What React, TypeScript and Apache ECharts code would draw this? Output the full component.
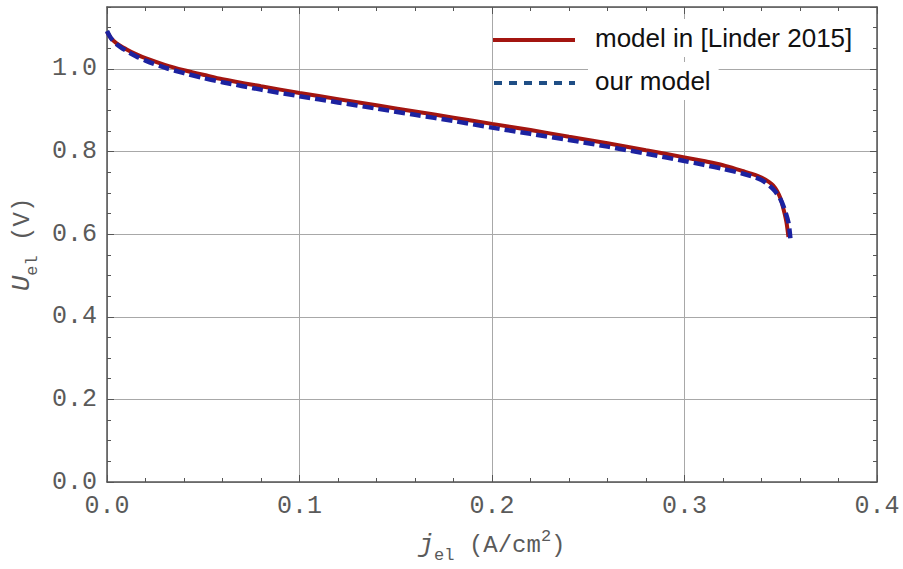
import React, { useEffect, useRef } from "react";
import * as echarts from "echarts";

// current density j_el (A/cm^2)
const linderJ = [0, 0.002, 0.005, 0.01, 0.015, 0.02, 0.03, 0.04, 0.05, 0.06, 0.08, 0.1, 0.12, 0.14, 0.16, 0.18, 0.2, 0.22, 0.24, 0.26, 0.28, 0.3, 0.31, 0.32, 0.33, 0.335, 0.34, 0.344, 0.346, 0.348, 0.35, 0.351, 0.352, 0.353, 0.354];
const linderU = [1.09, 1.075, 1.062, 1.048, 1.036, 1.026, 1.01, 0.997, 0.986, 0.975, 0.958, 0.942, 0.927, 0.912, 0.897, 0.882, 0.867, 0.852, 0.836, 0.82, 0.803, 0.786, 0.777, 0.767, 0.753, 0.746, 0.737, 0.726, 0.718, 0.705, 0.685, 0.668, 0.65, 0.628, 0.593];

const oursJ = [0, 0.002, 0.005, 0.01, 0.015, 0.02, 0.03, 0.04, 0.05, 0.06, 0.08, 0.1, 0.12, 0.14, 0.16, 0.18, 0.2, 0.22, 0.24, 0.26, 0.28, 0.3, 0.31, 0.32, 0.33, 0.335, 0.34, 0.344, 0.347, 0.35, 0.352, 0.354, 0.355];
const oursU = [1.092, 1.075, 1.06, 1.044, 1.031, 1.02, 1.003, 0.99, 0.978, 0.968, 0.95, 0.934, 0.919, 0.904, 0.889, 0.874, 0.858, 0.843, 0.828, 0.812, 0.795, 0.777, 0.768, 0.758, 0.747, 0.74, 0.731, 0.718, 0.704, 0.683, 0.66, 0.628, 0.59];

const seriesNames = ["model in [Linder 2015]", "our model"];

const X_MIN = 0, X_MAX = 0.4, X_MAJOR = 0.1, X_MINOR = 0.02;
const Y_MIN = 0, Y_MAX = 1.15, Y_MAJOR = 0.2, Y_MINOR = 0.05;

const FRAME = "#555555";
const GRID = "#a8a8a8";
const LABEL = "#5a5a5a";
const RED = "#a31510";
const BLUE = "#1c22a0";
const LEGEND_BLUE = "#1f4e85";
const MONO = "'Liberation Mono', 'DejaVu Sans Mono', monospace";
const SANS = "'Liberation Sans', Arial, sans-serif";

function zip(a: number[], b: number[]) {
  return a.map((v, i) => [v, b[i]]);
}

export default function App() {
  const ref = useRef<HTMLDivElement>(null);
  useEffect(() => {
    if (!ref.current) return;
    const chart = echarts.init(ref.current, undefined, { renderer: "svg" });

    const mkX = (pos: "bottom" | "top", major: boolean, main: boolean) => ({
      type: "value" as const,
      position: pos,
      min: X_MIN,
      max: X_MAX,
      interval: major ? X_MAJOR : X_MINOR,
      axisLine: { show: major, onZero: false, lineStyle: { color: FRAME, width: 1.5 } },
      axisTick: { show: true, inside: true, length: major ? 7 : 4, lineStyle: { color: FRAME, width: 1 } },
      axisLabel: main
        ? {
            show: true,
            margin: 12,
            fontFamily: MONO,
            fontSize: 25,
            color: LABEL,
            formatter: (v: number) => v.toFixed(1),
          }
        : { show: false },
      splitLine: main ? { show: true, lineStyle: { color: GRID, width: 1 } } : { show: false },
      name: main ? "{i|j}{sub|el} (A/cm{sup|2})" : "",
      nameLocation: "middle" as const,
      nameGap: 50,
      nameTextStyle: main
        ? {
            fontFamily: MONO,
            fontSize: 24,
            color: LABEL,
            rich: {
              i: { fontFamily: MONO, fontStyle: "italic", fontSize: 26, color: LABEL, verticalAlign: "bottom" },
              sub: { fontFamily: MONO, fontSize: 17, color: LABEL, verticalAlign: "bottom", padding: [0, 0, -6, 0] },
              sup: { fontFamily: MONO, fontSize: 17, color: LABEL, verticalAlign: "top", padding: [-4, 0, 0, 0] },
            },
          }
        : undefined,
    });

    const mkY = (pos: "left" | "right", major: boolean, main: boolean) => ({
      type: "value" as const,
      position: pos,
      min: Y_MIN,
      max: Y_MAX,
      interval: major ? Y_MAJOR : Y_MINOR,
      axisLine: { show: major, onZero: false, lineStyle: { color: FRAME, width: 1.5 } },
      axisTick: { show: true, inside: true, length: major ? 7 : 4, lineStyle: { color: FRAME, width: 1 } },
      axisLabel: main
        ? {
            show: true,
            margin: 10,
            fontFamily: MONO,
            fontSize: 25,
            color: LABEL,
            showMaxLabel: false,
            formatter: (v: number) => (Math.abs(v / Y_MAJOR - Math.round(v / Y_MAJOR)) < 1e-6 ? v.toFixed(1) : ""),
          }
        : { show: false },
      splitLine: main ? { show: true, lineStyle: { color: GRID, width: 1 } } : { show: false },
      name: main ? "{i|U}{sub|el} (V)" : "",
      nameLocation: "middle" as const,
      nameGap: 72,
      nameRotate: 90,
      nameTextStyle: main
        ? {
            fontFamily: MONO,
            fontSize: 24,
            color: LABEL,
            rich: {
              i: { fontFamily: MONO, fontStyle: "italic", fontSize: 26, color: LABEL, verticalAlign: "bottom" },
              sub: { fontFamily: MONO, fontSize: 17, color: LABEL, verticalAlign: "bottom", padding: [0, 0, -6, 0] },
            },
          }
        : undefined,
    });

    chart.setOption({
      animation: false,
      backgroundColor: "#ffffff",
      grid: { left: 107, right: 26, top: 7, bottom: 86, containLabel: false },
      xAxis: [mkX("bottom", true, true), mkX("bottom", false, false), mkX("top", true, false), mkX("top", false, false)],
      yAxis: [mkY("left", true, true), mkY("left", false, false), mkY("right", true, false), mkY("right", false, false)],
      graphic: [
        {
          type: "text",
          left: 588,
          top: 19,
          z: 100,
          style: {
            text: seriesNames[0],
            fontFamily: SANS,
            fontSize: 26,
            fill: "#111",
            backgroundColor: "#ffffff",
            padding: [6, 8, 6, 7],
          },
        },
        {
          type: "text",
          left: 588,
          top: 62,
          z: 100,
          style: {
            text: seriesNames[1],
            fontFamily: SANS,
            fontSize: 26,
            fill: "#111",
            backgroundColor: "#ffffff",
            padding: [6, 8, 6, 7],
          },
        },
        {
          type: "line",
          z: 100,
          shape: { x1: 493, y1: 40, x2: 575, y2: 40 },
          style: { stroke: RED, lineWidth: 4 },
        },
        {
          type: "line",
          z: 100,
          shape: { x1: 494, y1: 83, x2: 575, y2: 83 },
          style: { stroke: LEGEND_BLUE, lineWidth: 4, lineDash: [8, 7] },
        },
      ],
      series: [
        {
          name: seriesNames[0],
          type: "line",
          xAxisIndex: 0,
          yAxisIndex: 0,
          data: zip(linderJ, linderU),
          symbol: "none",
          smooth: 0.3,
          color: RED,
          lineStyle: { color: RED, width: 4 },
          z: 3,
        },
        {
          name: seriesNames[1],
          type: "line",
          xAxisIndex: 0,
          yAxisIndex: 0,
          data: zip(oursJ, oursU),
          symbol: "none",
          smooth: 0.3,
          color: BLUE,
          lineStyle: { color: BLUE, width: 4.5, type: [11, 5] },
          z: 4,
        },
      ],
    });
    return () => chart.dispose();
  }, []);

  return <div ref={ref} style={{ width: 903, height: 569, position: "absolute", left: 0, top: 0 }} />;
}
